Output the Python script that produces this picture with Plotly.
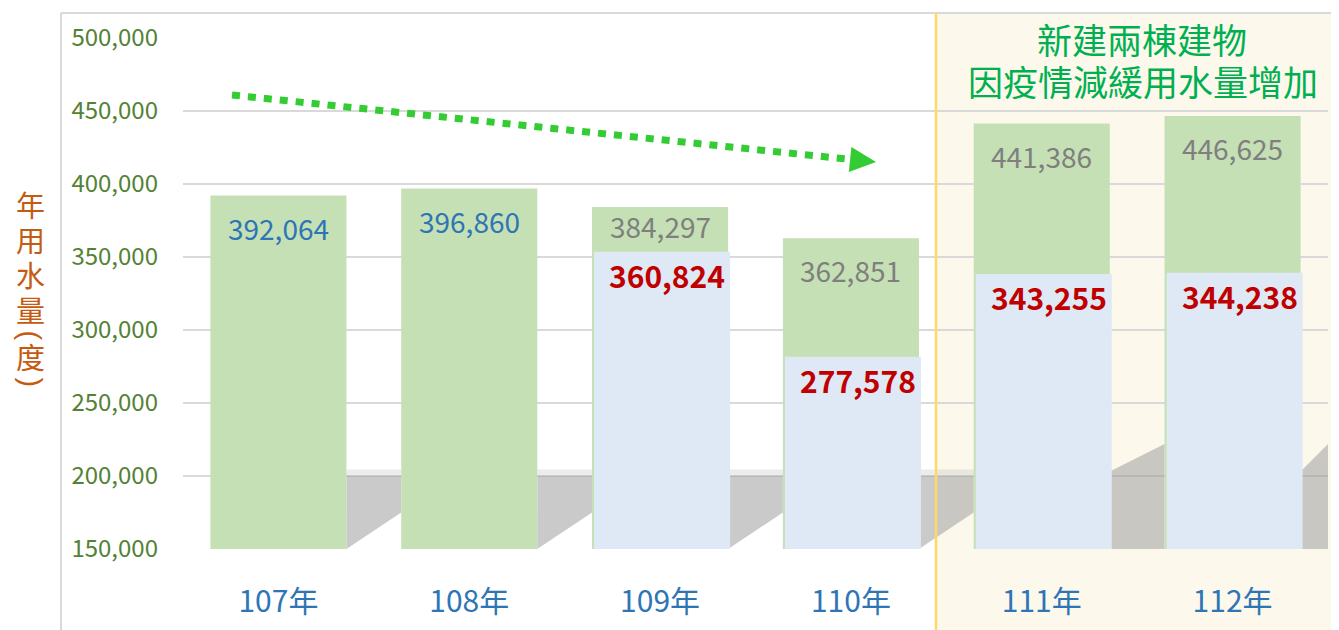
import plotly.graph_objects as go

# ---------------- data ----------------
years = ["107年", "108年", "109年", "110年", "111年", "112年"]
total_usage = [392064, 396860, 384297, 362851, 441386, 446625]
adjusted_usage = [None, None, 360824, 277578, 343255, 344238]
y_ticks = [150000, 200000, 250000, 300000, 350000, 400000, 450000, 500000]
y_tick_text = [f"{v:,}" for v in y_ticks]
y_title = "年用水量(度)"
note_lines = ["新建兩棟建物", "因疫情減緩用水量增加"]
highlight_from = "111年"

# ---------------- layout helpers ----------------
OFF = 8                      # page body margin
W, H = 1331, 622
L, R, T, B = 175, 11, 30, 81
PW, PH = W - L - R, H - T - B
FONT = "Noto Sans CJK TC, Noto Sans, sans-serif"
FONT_TIGHT = "Liberation Sans, Noto Sans CJK TC, sans-serif"


def px(x):
    """window pixel x -> paper"""
    return (x - OFF - L) / PW


def py(y):
    """window pixel y -> paper"""
    return (H + OFF - B - y) / PH


BAR_W = 0.713
SHIFT = 2 / (PW / len(years))  # small right offset of inner bars
Y_RANGE = [150000, 500000]
Y2_RANGE = [125000, 530400]

GREEN = "#c5e0b4"
BLUE = "#dee9f5"

fig = go.Figure()

fig.add_trace(go.Bar(
    x=years, y=total_usage, width=BAR_W, marker=dict(color=GREEN, line_width=0),
    hoverinfo="skip", showlegend=False,
))

sub_x = [yr for yr, v in zip(years, adjusted_usage) if v is not None]
sub_y = [v for v in adjusted_usage if v is not None]
fig.add_trace(go.Bar(
    x=sub_x, y=sub_y, width=BAR_W, offset=-BAR_W / 2 + SHIFT,
    marker=dict(color=BLUE, line_width=0), yaxis="y2",
    hoverinfo="skip", showlegend=False,
))

annotations = []
# labels on total bars
for yr, tot, sub in zip(years, total_usage, adjusted_usage):
    color = "#2e75b6" if sub is None else "#7f7f7f"
    shift = -32
    if sub is not None:
        top_px = PH * (tot - Y_RANGE[0]) / (Y_RANGE[1] - Y_RANGE[0])
        sub_px = PH * (sub - Y2_RANGE[0]) / (Y2_RANGE[1] - Y2_RANGE[0])
        if top_px - sub_px < 60:
            shift = -(top_px - sub_px) / 2 + 3
    annotations.append(dict(
        x=yr, y=tot, xref="x", yref="y", text=f"{tot:,}", showarrow=False,
        yanchor="middle", yshift=shift,
        font=dict(family=FONT, size=28, color=color),
    ))
# labels on inner bars
for yr, sub in zip(sub_x, sub_y):
    annotations.append(dict(
        x=yr, y=sub, xref="x", yref="y2", text=f"<b>{sub:,}</b>", showarrow=False,
        yanchor="middle", yshift=-23, xshift=7,
        font=dict(family=FONT, size=30, color="#c00000"),
    ))

# note text
annotations.append(dict(
    x=px(1142), y=py(41), xref="paper", yref="paper", text=note_lines[0],
    showarrow=False, xanchor="center", yanchor="middle",
    font=dict(family=FONT_TIGHT, size=35, color="#00b050"),
))
annotations.append(dict(
    x=px(1143), y=py(83), xref="paper", yref="paper", text=note_lines[1],
    showarrow=False, xanchor="center", yanchor="middle",
    font=dict(family=FONT_TIGHT, size=35, color="#00b050"),
))

# vertical y-axis title, one glyph per line (brackets rotated)
ycur = 189.5
for ch in y_title:
    bracket = ch in "()"
    h = 12 if bracket else 35
    ycur += h / 2
    annotations.append(dict(
        x=px(30), y=py(ycur), xref="paper", yref="paper", text=ch,
        showarrow=False, xanchor="center", yanchor="middle",
        textangle=90 if bracket else 0,
        font=dict(family=FONT_TIGHT, size=29, color="#c55a11"),
    ))
    ycur += h / 2

shapes = []
# highlighted region background
x_div = px(936)
shapes.append(dict(type="rect", xref="paper", yref="paper", x0=x_div, x1=px(W + OFF + 5),
                   y0=py(H + OFF + 5), y1=py(13), fillcolor="#fcf8ec", line_width=0, layer="below"))
# outer frame lines
shapes.append(dict(type="line", xref="paper", yref="paper", x0=px(61), x1=px(61),
                   y0=py(H + OFF + 5), y1=py(13), line=dict(color="#d9d9d9", width=2), layer="below"))
shapes.append(dict(type="line", xref="paper", yref="paper", x0=px(61), x1=px(W + OFF + 5),
                   y0=py(13), y1=py(13), line=dict(color="#d9d9d9", width=2), layer="below"))
# divider line
shapes.append(dict(type="line", xref="paper", yref="paper", x0=x_div, x1=x_div,
                   y0=py(H + OFF + 5), y1=py(13), line=dict(color="#ffd966", width=2.5), layer="above"))

# floor shadow in the gaps between bars
half = BAR_W / 2
n = len(years)
for i in range(n):
    xl = i + half
    xr = min(i + 1 - half, n - 0.5)
    if i < n - 2:
        path = f"M{xl},200000 L{xr},200000 L{xr},175000 L{xl},150000 Z"
        shapes.append(dict(type="rect", xref="x", yref="y", x0=xl, x1=xr,
                           y0=200000, y1=204500, fillcolor="rgba(150,150,150,0.18)",
                           line_width=0, layer="between"))
    else:
        path = f"M{xl},150000 L{xl},203000 L{xr},222000 L{xr},150000 Z"
    shapes.append(dict(type="path", xref="x", yref="y", path=path,
                       fillcolor="rgba(150,150,150,0.5)", line_width=0, layer="between"))

# dotted trend arrow
ax0, ay0, ax1, ay1 = 232, 95, 851, 159.5
shapes.append(dict(type="line", xref="paper", yref="paper", x0=px(ax0), y0=py(ay0),
                   x1=px(ax1), y1=py(ay1),
                   line=dict(color="#33cc33", width=7, dash="8px,8px"), layer="above"))
tip = (876, 162)
b1 = (851.4, 147)
b2 = (848.8, 172)
shapes.append(dict(type="path", xref="paper", yref="paper",
                   path=f"M{px(tip[0])},{py(tip[1])} L{px(b1[0])},{py(b1[1])} L{px(b2[0])},{py(b2[1])} Z",
                   fillcolor="#33cc33", line_width=0, layer="above"))

fig.update_layout(
    width=W, height=H,
    margin=dict(l=L, r=R, t=T, b=B, pad=0, autoexpand=False),
    paper_bgcolor="white", plot_bgcolor="rgba(0,0,0,0)",
    barmode="overlay", bargap=1 - BAR_W,
    showlegend=False,
    annotations=annotations, shapes=shapes,
    xaxis=dict(
        type="category", range=[-0.5, n - 0.5], showgrid=False, zeroline=False, showline=False,
        ticks="", tickfont=dict(family=FONT, size=30, color="#2e75b6"),
        ticklabelstandoff=32, automargin=False,
    ),
    yaxis=dict(
        range=Y_RANGE, tickvals=y_ticks, ticktext=y_tick_text,
        showgrid=True, gridcolor="#d9d9d9", gridwidth=2, zeroline=False, showline=False,
        ticks="", tickfont=dict(family=FONT, size=24, color="#548235"),
        ticklabelstandoff=24, automargin=False,
    ),
    yaxis2=dict(range=Y2_RANGE, overlaying="y", visible=False, showgrid=False),
)

fig.write_html("out.html")
